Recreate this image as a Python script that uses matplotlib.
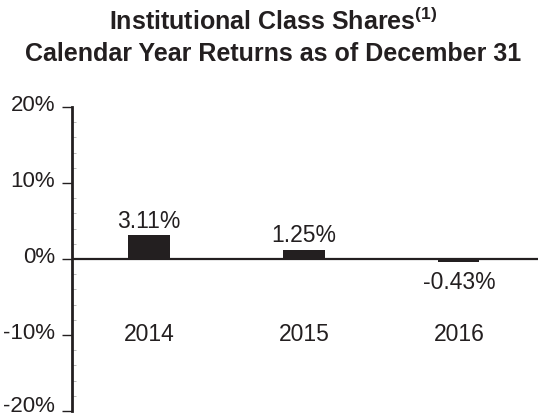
import numpy as np
import matplotlib.pyplot as plt
import matplotlib.transforms as mtransforms
from matplotlib.ticker import MultipleLocator

years = ['2014', '2015', '2016']
returns = [3.11, 1.25, -0.43]
value_labels = ['3.11%', '1.25%', '-0.43%']
y_ticks = [-20, -10, 0, 10, 20]
y_ticklabels = ['-20%', '-10%', '0%', '10%', '20%']

plt.rcParams['font.family'] = ['Liberation Sans', 'DejaVu Sans']
plt.rcParams['mathtext.fontset'] = 'custom'
plt.rcParams['mathtext.rm'] = 'Liberation Sans'
plt.rcParams['mathtext.bf'] = 'Liberation Sans:bold'
ink = '#231f20'

fig = plt.figure(figsize=(5.38, 4.17), dpi=100)
ax = fig.add_axes([72 / 538, 1 - 411 / 417, 1 - 72 / 538, (411 - 107) / 417])

x = np.arange(len(years))
ax.bar(x, returns, width=0.265, color=ink)
ax.axhline(0, color=ink, lw=1.6)

# value labels (offsets in pixels from bar end)
for xi, v, lab in zip(x, returns, value_labels):
    dy = 7 if v >= 0 else -27
    ax.annotate(lab, (xi, v), xytext=(0, dy), textcoords='offset pixels',
                ha='center', va='baseline', fontsize=16.5, color=ink)
    ax.annotate(years[xi], (xi, -10), xytext=(0, -6), textcoords='offset pixels',
                ha='center', va='baseline', fontsize=16.5, color=ink)

ax.set_xlim(-0.497, 2.51)
ax.set_ylim(-20, 20)
ax.set_yticks(y_ticks)
ax.set_yticklabels(y_ticklabels, fontsize=16, color=ink)
ax.yaxis.set_minor_locator(MultipleLocator(2))
ax.tick_params(axis='y', which='major', length=7.5, width=1, color=ink, pad=4.5)
ax.tick_params(axis='y', which='minor', direction='in', length=3, width=0.6, color='#b0b0b0')
ax.set_xticks([])

# labels sit a few pixels above their ticks; the bottom one a bit more so it stays in frame
for lbl in ax.get_yticklabels():
    up = 7 if lbl.get_text() == '-20%' else 4
    shift = mtransforms.ScaledTranslation(0, up / 100, fig.dpi_scale_trans)
    lbl.set_transform(lbl.get_transform() + shift)

for s in ['top', 'right', 'bottom']:
    ax.spines[s].set_visible(False)
ax.spines['left'].set_color(ink)
ax.spines['left'].set_linewidth(2)

fig.text(273 / 538, 1 - 30 / 417, r'Institutional Class Shares$^{\mathbf{(1)}}$', ha='center', va='baseline',
         fontsize=18, fontweight='bold', color=ink)
fig.text(273 / 538, 1 - 61 / 417, 'Calendar Year Returns as of December 31', ha='center', va='baseline',
         fontsize=18, fontweight='bold', color=ink)

fig.savefig('out.png', dpi=100)
